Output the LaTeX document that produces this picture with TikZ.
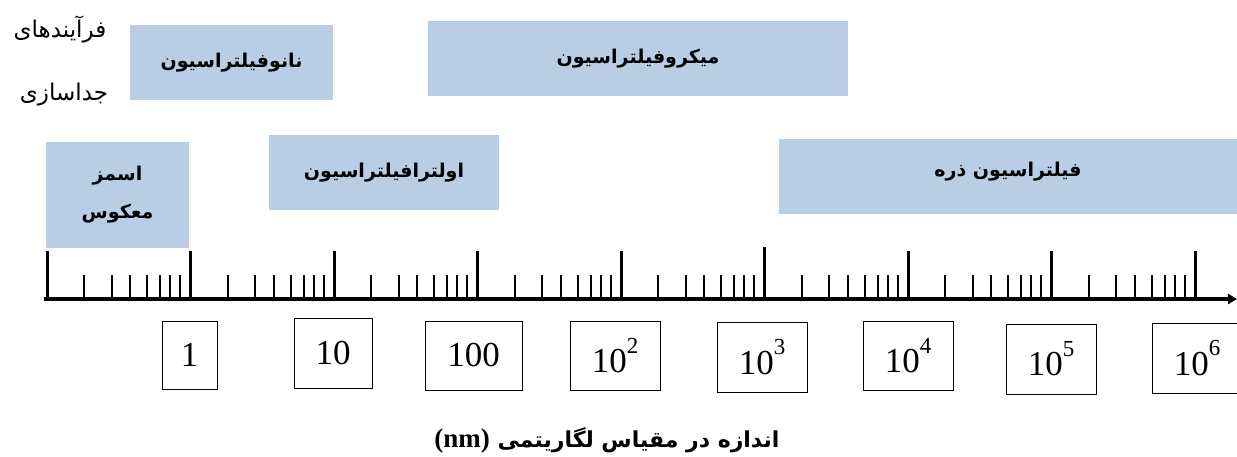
\documentclass[tikz,border=0pt]{standalone}
\usepackage{fontspec}
\setmainfont{Liberation Serif}
\newfontfamily\fa[Script=Arabic]{DejaVu Sans}
\TeXXeTstate=1
\usetikzlibrary{arrows.meta}
\definecolor{procblue}{RGB}{185,205,228}
\newcommand{\pw}[1]{\raisebox{0.55em}{\fontsize{23}{24}\selectfont #1}}
\tikzset{
  proc/.style={fill=procblue, draw=none, inner sep=0pt, align=center,
    font=\fa\bfseries\fontsize{19}{22}\selectfont},
  valbox/.style={draw=black, line width=1pt, inner sep=0pt,
    font=\fontsize{35}{38}\selectfont},
  sidelabel/.style={inner sep=0pt, font=\fa\fontsize{23}{26}\selectfont},
  majortick/.style={line width=3pt},
  minortick/.style={line width=2pt},
  axisline/.style={line width=3.2pt, -{Triangle[length=9pt,width=10pt]}}
}
\begin{document}
\begin{tikzpicture}[x=1pt,y=-1pt]
\useasboundingbox (0,0) rectangle (1237,457);
% process boxes
\node[proc, minimum width=203, minimum height=75] (nano) at (231.5,62.5) {\beginR نانوفیلتراسیون\endR};
\node[proc, minimum width=420, minimum height=75] (micro) at (638,58.5) {\beginR میکروفیلتراسیون\endR};
\node[proc, minimum width=143, minimum height=106] (ro) at (117.5,195) {\beginR اسمز\endR\\[16pt]\beginR معکوس\endR};
\node[proc, minimum width=230, minimum height=75] (ultra) at (384,172.5) {\beginR اولترافیلتراسیون\endR};
\node[proc, minimum width=470, minimum height=75] (part) at (1014,176.5) {};
\node[proc] (partlbl) at (1008,172) {\beginR فیلتراسیون ذره\endR};
% side labels
\node[sidelabel] (proc1) at (60,30) {\beginR فرآیندهای\endR};
\node[sidelabel] (proc2) at (64,95) {\beginR جداسازی\endR};
% axis
\coordinate (axstart) at (44,299);
\coordinate (axend) at (1237,299);
\draw[axisline] (axstart) -- (axend);
\foreach \i in {0,...,8}{
  \pgfmathsetmacro{\xm}{47+143.5*\i}
  \draw[majortick] (\xm,299) -- (\xm,251);
}
\draw[majortick] (764.5,299) -- (764.5,247);
\foreach \i in {0,...,7}{
  \foreach \f in {0.26,0.45,0.58,0.70,0.79,0.86,0.93}{
    \pgfmathsetmacro{\xs}{47+143.5*\i+143.5*\f}
    \draw[minortick] (\xs,299) -- (\xs,275);
  }
}
% value boxes
\node[valbox, minimum width=55, minimum height=68] (v0) at (189.5,355) {1};
\node[valbox, minimum width=78, minimum height=70] (v1) at (333,353) {10};
\node[valbox, minimum width=97, minimum height=69] (v2) at (473.5,355.5) {100};
\node[valbox, minimum width=90, minimum height=69] (v3) at (615,355.5) {10\pw{2}};
\node[valbox, minimum width=90, minimum height=70] (v4) at (762,357) {10\pw{3}};
\node[valbox, minimum width=90, minimum height=69] (v5) at (908,355.5) {10\pw{4}};
\node[valbox, minimum width=90, minimum height=70] (v6) at (1051,359) {10\pw{5}};
\node[valbox, minimum width=90, minimum height=70] (v7) at (1197,358) {10\pw{6}};
% caption
\node[inner sep=0pt, font=\fa\bfseries\fontsize{22}{26}\selectfont] (cap) at (607,440)
  {\beginR اندازه در مقیاس لگاریتمی \beginL{\rmfamily\bfseries\fontsize{27}{28}\selectfont(nm)}\endL\endR};
\end{tikzpicture}
\end{document}
